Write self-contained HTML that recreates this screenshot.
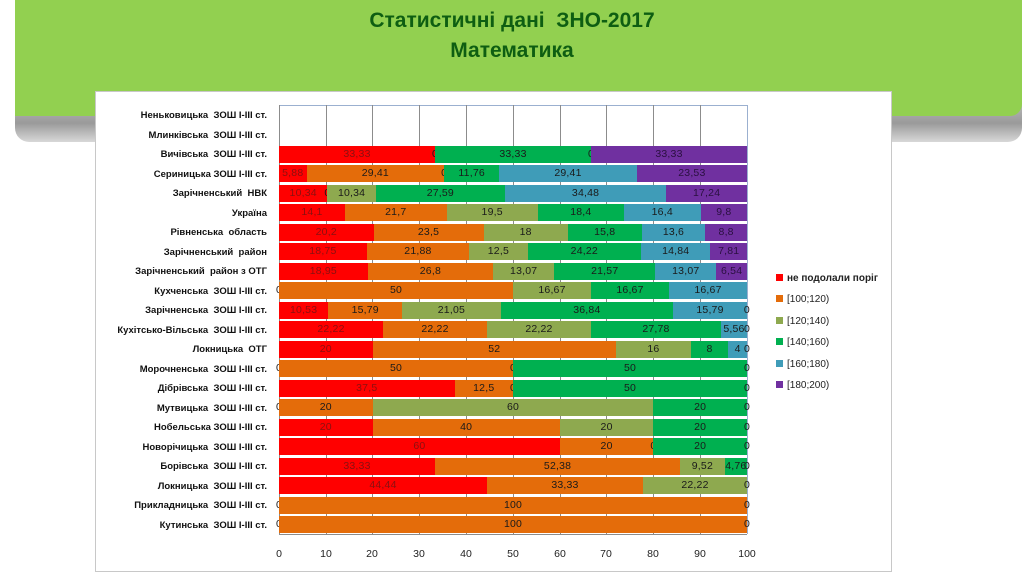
<!DOCTYPE html>
<html><head><meta charset="utf-8"><style>
*{margin:0;padding:0;box-sizing:border-box}
body{width:1024px;height:574px;background:#fff;position:relative;overflow:hidden;font-family:"Liberation Sans","DejaVu Sans",sans-serif}
.shadow{position:absolute;left:15px;top:100px;width:1007px;height:42px;border-radius:0 0 14px 14px;background:linear-gradient(#bdbdbd,#9a9a9a 55%,#d8d8d8)}
.banner{position:absolute;left:15px;top:0;width:1007px;height:116px;background:#92d050;border-radius:0 0 12px 0}
.title{position:absolute;left:0;width:1024px;text-align:center;color:#0e5e12;font-weight:bold;font-size:21px}
.box{position:absolute;left:95px;top:91px;width:797px;height:481px;background:#fff;border:1px solid #c8c8c8}
.grid{position:absolute;top:105px;height:429px;width:1px;background:#8c8c8c;z-index:1}
.row{position:absolute;left:279px;width:468px;height:17px;display:flex;z-index:2}
.s{flex:none;height:100%;position:relative}
.s span{position:absolute;left:50%;top:2px;transform:translateX(-50%);font-size:10.5px;color:#1a1a1a;white-space:nowrap;letter-spacing:0.2px}
.r{background:#ff0000}.r span{color:#8a1010}
.s span.z{color:#1a1a1a}
.o{background:#e46c0a}.ol{background:#8ea94f}.g{background:#00b050}.t{background:#3f9cb8}.p{background:#7030a0}.p span{color:#2a1040}
.cat{position:absolute;right:757px;font-size:9.5px;font-weight:bold;color:#111;white-space:nowrap;text-align:right}
.tick{position:absolute;top:548px;font-size:10.5px;color:#222;width:30px;margin-left:-15px;text-align:center}
.leg{position:absolute;left:776px;font-size:10px;color:#222}
.leg i{display:inline-block;width:7px;height:7px;margin-right:4px;vertical-align:0}
</style></head><body>
<div class="shadow"></div>
<div class="banner"></div>
<div class="title" style="top:9px">Статистичні дані&nbsp; ЗНО-2017</div>
<div class="title" style="top:39px">Математика</div>
<div class="box"></div>
<div style="position:absolute;left:279px;top:105px;width:468px;height:1px;background:#9bb0d0"></div>
<div class="grid" style="left:279px"></div><div class="grid" style="left:326px"></div><div class="grid" style="left:372px"></div><div class="grid" style="left:419px"></div><div class="grid" style="left:466px"></div><div class="grid" style="left:513px"></div><div class="grid" style="left:560px"></div><div class="grid" style="left:606px"></div><div class="grid" style="left:653px"></div><div class="grid" style="left:700px"></div><div class="grid" style="left:747px;background:#9bb0d0"></div>

<div class="cat" style="top:110px">Неньковицька&nbsp; ЗОШ І-ІІІ ст.</div>
<div class="cat" style="top:130px">Млинківська&nbsp; ЗОШ І-ІІІ ст.</div>
<div class="cat" style="top:149px">Вичівська&nbsp; ЗОШ І-ІІІ ст.</div>
<div class="cat" style="top:169px">Сериницька ЗОШ І-ІІІ ст.</div>
<div class="cat" style="top:188px">Зарічненський&nbsp; НВК</div>
<div class="cat" style="top:208px">Україна</div>
<div class="cat" style="top:227px">Рівненська&nbsp; область</div>
<div class="cat" style="top:247px">Зарічненський&nbsp; район</div>
<div class="cat" style="top:266px">Зарічненський&nbsp; район з ОТГ</div>
<div class="cat" style="top:286px">Кухченська&nbsp; ЗОШ І-ІІІ ст.</div>
<div class="cat" style="top:305px">Зарічненська&nbsp; ЗОШ І-ІІІ ст.</div>
<div class="cat" style="top:325px">Кухітсько-Вільська&nbsp; ЗОШ І-ІІІ ст.</div>
<div class="cat" style="top:344px">Локницька&nbsp; ОТГ</div>
<div class="cat" style="top:364px">Морочненська&nbsp; ЗОШ І-ІІІ ст.</div>
<div class="cat" style="top:383px">Дібрівська&nbsp; ЗОШ І-ІІІ ст.</div>
<div class="cat" style="top:403px">Мутвицька&nbsp; ЗОШ І-ІІІ ст.</div>
<div class="cat" style="top:422px">Нобельська ЗОШ І-ІІІ ст.</div>
<div class="cat" style="top:442px">Новорічицька&nbsp; ЗОШ І-ІІІ ст.</div>
<div class="cat" style="top:461px">Борівська&nbsp; ЗОШ І-ІІІ ст.</div>
<div class="cat" style="top:481px">Локницька&nbsp; ЗОШ І-ІІІ ст.</div>
<div class="cat" style="top:500px">Прикладницька&nbsp; ЗОШ І-ІІІ ст.</div>
<div class="cat" style="top:520px">Кутинська&nbsp; ЗОШ І-ІІІ ст.</div>

<div class="row" style="top:145.5px"><div class="s r" style="width:33.33%"><span>33,33</span></div><div class="s o" style="width:0"><span>0</span></div><div class="s g" style="width:33.33%"><span>33,33</span></div><div class="s t" style="width:0"><span>0</span></div><div class="s p" style="width:33.34%"><span>33,33</span></div></div>
<div class="row" style="top:165px"><div class="s r" style="width:5.88%"><span>5,88</span></div><div class="s o" style="width:29.41%"><span>29,41</span></div><div class="s ol" style="width:0"><span>0</span></div><div class="s g" style="width:11.76%"><span>11,76</span></div><div class="s t" style="width:29.41%"><span>29,41</span></div><div class="s p" style="width:23.54%"><span>23,53</span></div></div>
<div class="row" style="top:184.5px"><div class="s r" style="width:10.34%"><span>10,34</span></div><div class="s o" style="width:0"><span>0</span></div><div class="s ol" style="width:10.34%"><span>10,34</span></div><div class="s g" style="width:27.59%"><span>27,59</span></div><div class="s t" style="width:34.48%"><span>34,48</span></div><div class="s p" style="width:17.25%"><span>17,24</span></div></div>
<div class="row" style="top:204px"><div class="s r" style="width:14.1%"><span>14,1</span></div><div class="s o" style="width:21.7%"><span>21,7</span></div><div class="s ol" style="width:19.5%"><span>19,5</span></div><div class="s g" style="width:18.4%"><span>18,4</span></div><div class="s t" style="width:16.4%"><span>16,4</span></div><div class="s p" style="width:9.9%"><span>9,8</span></div></div>
<div class="row" style="top:223.5px"><div class="s r" style="width:20.2%"><span>20,2</span></div><div class="s o" style="width:23.5%"><span>23,5</span></div><div class="s ol" style="width:18%"><span>18</span></div><div class="s g" style="width:15.8%"><span>15,8</span></div><div class="s t" style="width:13.6%"><span>13,6</span></div><div class="s p" style="width:8.9%"><span>8,8</span></div></div>
<div class="row" style="top:243px"><div class="s r" style="width:18.75%"><span>18,75</span></div><div class="s o" style="width:21.88%"><span>21,88</span></div><div class="s ol" style="width:12.5%"><span>12,5</span></div><div class="s g" style="width:24.22%"><span>24,22</span></div><div class="s t" style="width:14.84%"><span>14,84</span></div><div class="s p" style="width:7.81%"><span>7,81</span></div></div>
<div class="row" style="top:262.5px"><div class="s r" style="width:18.95%"><span>18,95</span></div><div class="s o" style="width:26.8%"><span>26,8</span></div><div class="s ol" style="width:13.07%"><span>13,07</span></div><div class="s g" style="width:21.57%"><span>21,57</span></div><div class="s t" style="width:13.07%"><span>13,07</span></div><div class="s p" style="width:6.54%"><span>6,54</span></div></div>
<div class="row" style="top:282px"><div class="s r" style="width:0"><span class="z">0</span></div><div class="s o" style="width:50%"><span>50</span></div><div class="s ol" style="width:16.67%"><span>16,67</span></div><div class="s g" style="width:16.67%"><span>16,67</span></div><div class="s t" style="width:16.66%"><span>16,67</span></div></div>
<div class="row" style="top:301.5px"><div class="s r" style="width:10.53%"><span>10,53</span></div><div class="s o" style="width:15.79%"><span>15,79</span></div><div class="s ol" style="width:21.05%"><span>21,05</span></div><div class="s g" style="width:36.84%"><span>36,84</span></div><div class="s t" style="width:15.79%"><span>15,79</span></div><div class="s p" style="width:0"><span class="z">0</span></div></div>
<div class="row" style="top:321px"><div class="s r" style="width:22.22%"><span>22,22</span></div><div class="s o" style="width:22.22%"><span>22,22</span></div><div class="s ol" style="width:22.22%"><span>22,22</span></div><div class="s g" style="width:27.78%"><span>27,78</span></div><div class="s t" style="width:5.56%"><span>5,56</span></div><div class="s p" style="width:0"><span class="z">0</span></div></div>
<div class="row" style="top:340.5px"><div class="s r" style="width:20%"><span>20</span></div><div class="s o" style="width:52%"><span>52</span></div><div class="s ol" style="width:16%"><span>16</span></div><div class="s g" style="width:8%"><span>8</span></div><div class="s t" style="width:4%"><span>4</span></div><div class="s p" style="width:0"><span class="z">0</span></div></div>
<div class="row" style="top:360px"><div class="s r" style="width:0"><span class="z">0</span></div><div class="s o" style="width:50%"><span>50</span></div><div class="s ol" style="width:0"><span>0</span></div><div class="s g" style="width:50%"><span>50</span></div><div class="s t" style="width:0"><span>0</span></div></div>
<div class="row" style="top:379.5px"><div class="s r" style="width:37.5%"><span>37,5</span></div><div class="s o" style="width:12.5%"><span>12,5</span></div><div class="s ol" style="width:0"><span>0</span></div><div class="s g" style="width:50%"><span>50</span></div><div class="s t" style="width:0"><span>0</span></div></div>
<div class="row" style="top:399px"><div class="s r" style="width:0"><span class="z">0</span></div><div class="s o" style="width:20%"><span>20</span></div><div class="s ol" style="width:60%"><span>60</span></div><div class="s g" style="width:20%"><span>20</span></div><div class="s t" style="width:0"><span>0</span></div></div>
<div class="row" style="top:418.5px"><div class="s r" style="width:20%"><span>20</span></div><div class="s o" style="width:40%"><span>40</span></div><div class="s ol" style="width:20%"><span>20</span></div><div class="s g" style="width:20%"><span>20</span></div><div class="s t" style="width:0"><span>0</span></div></div>
<div class="row" style="top:438px"><div class="s r" style="width:60%"><span>60</span></div><div class="s o" style="width:20%"><span>20</span></div><div class="s ol" style="width:0"><span>0</span></div><div class="s g" style="width:20%"><span>20</span></div><div class="s t" style="width:0"><span>0</span></div></div>
<div class="row" style="top:457.5px"><div class="s r" style="width:33.33%"><span>33,33</span></div><div class="s o" style="width:52.38%"><span>52,38</span></div><div class="s ol" style="width:9.52%"><span>9,52</span></div><div class="s g" style="width:4.77%"><span>4,76</span></div><div class="s t" style="width:0"><span>0</span></div></div>
<div class="row" style="top:477px"><div class="s r" style="width:44.44%"><span>44,44</span></div><div class="s o" style="width:33.33%"><span>33,33</span></div><div class="s ol" style="width:22.23%"><span>22,22</span></div><div class="s g" style="width:0"><span>0</span></div></div>
<div class="row" style="top:496.5px"><div class="s r" style="width:0"><span class="z">0</span></div><div class="s o" style="width:100%"><span>100</span></div><div class="s ol" style="width:0"><span>0</span></div></div>
<div class="row" style="top:516px"><div class="s r" style="width:0"><span class="z">0</span></div><div class="s o" style="width:100%"><span>100</span></div><div class="s ol" style="width:0"><span>0</span></div></div>

<div style="position:absolute;left:279px;top:534px;width:468px;height:1px;background:#8c8c8c"></div>
<div class="tick" style="left:279px">0</div><div class="tick" style="left:326px">10</div><div class="tick" style="left:372px">20</div><div class="tick" style="left:419px">30</div><div class="tick" style="left:466px">40</div><div class="tick" style="left:513px">50</div><div class="tick" style="left:560px">60</div><div class="tick" style="left:606px">70</div><div class="tick" style="left:653px">80</div><div class="tick" style="left:700px">90</div><div class="tick" style="left:747px">100</div>

<div class="leg" style="top:273px;font-weight:bold"><i style="background:#ff0000"></i>не подолали поріг</div>
<div class="leg" style="top:294px"><i style="background:#e46c0a"></i>[100;120)</div>
<div class="leg" style="top:316px"><i style="background:#8ea94f"></i>[120;140)</div>
<div class="leg" style="top:337px"><i style="background:#00b050"></i>[140;160)</div>
<div class="leg" style="top:359px"><i style="background:#3f9cb8"></i>[160;180)</div>
<div class="leg" style="top:380px"><i style="background:#7030a0"></i>[180;200)</div>
</body></html>
